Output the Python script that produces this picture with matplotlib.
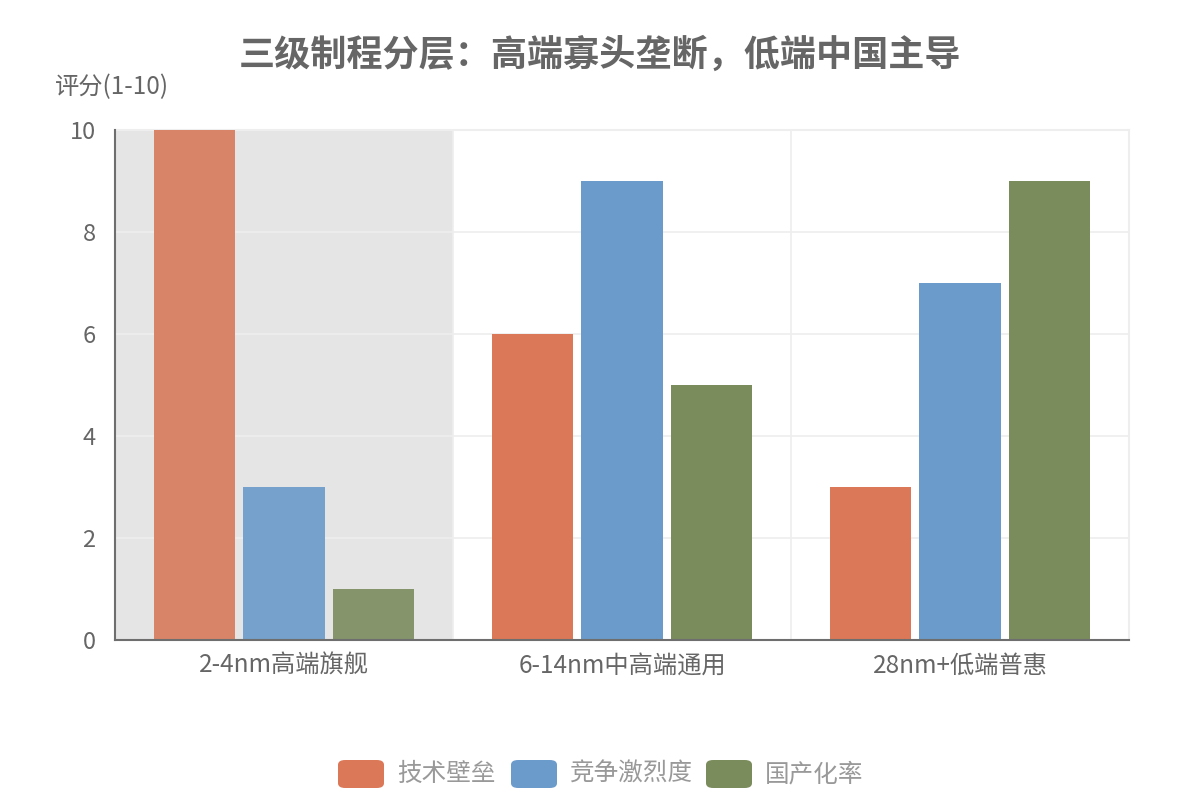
import matplotlib
matplotlib.use("Agg")
import matplotlib.pyplot as plt
from matplotlib.patches import FancyBboxPatch
import numpy as np

plt.rcParams["font.family"] = ["Noto Sans CJK SC", "DejaVu Sans"]

categories = ["2-4nm高端旗舰", "6-14nm中高端通用", "28nm+低端普惠"]
series_names = ["技术壁垒", "竞争激烈度", "国产化率"]
tech_barrier = [10, 6, 3]
competition = [3, 9, 7]
localization = [1, 5, 9]
y_ticks = [0, 2, 4, 6, 8, 10]

COLORS = ["#db7858", "#6b9bcb", "#7a8c5c"]
FADED = ["#d88468", "#76a1cc", "#85946b"]
TEXT = "#666666"

fig = plt.figure(figsize=(12, 8), dpi=100)
ax = fig.add_axes([115 / 1200, 160 / 800, 1014 / 1200, 510 / 800])

x = np.arange(len(categories))
width = 0.24
offsets = [-0.265, 0, 0.265]
values = [tech_barrier, competition, localization]

# highlighted first category (axis pointer shadow)
ax.axvspan(-0.5, 0.5, color="#e5e5e5", zorder=0.5, lw=0)

for i, vals in enumerate(values):
    cols = [FADED[i] if j == 0 else COLORS[i] for j in range(len(vals))]
    ax.bar(x + offsets[i], vals, width, color=cols, zorder=2)

ax.set_xlim(-0.5, 2.5)
ax.set_ylim(0, 10)
ax.set_yticks(y_ticks)
ax.set_yticklabels([str(t) for t in y_ticks])
ax.set_xticks(x)
ax.set_xticklabels(categories)
ax.tick_params(axis="x", length=0, labelsize=17.5, colors=TEXT, pad=9)
ax.tick_params(axis="y", length=0, labelsize=17, colors=TEXT, pad=14)

ax.grid(axis="y", color="#eeeeee", lw=1.2, zorder=1)
for b in [0.5, 1.5]:
    ax.axvline(b, color="#eeeeee", lw=1.2, zorder=1)
for side in ["top", "right"]:
    ax.spines[side].set_color("#eeeeee")
    ax.spines[side].set_linewidth(1.5)
for side in ["left", "bottom"]:
    ax.spines[side].set_color("#6e6e6e")
    ax.spines[side].set_linewidth(1.5)
ax.spines["top"].set_zorder(0.6)

fig.text(0.5, 1 - 55 / 800, "三级制程分层：高端寡头垄断，低端中国主导",
         ha="center", va="center", fontsize=26, fontweight="bold", color=TEXT)
fig.text(55 / 1200, 1 - 87 / 800, "评分(1-10)", ha="left", va="center",
         fontsize=17.5, color=TEXT)

# legend
box_x = [338, 511, 706]
for i, name in enumerate(series_names):
    bx = box_x[i]
    patch = FancyBboxPatch((bx / 1200, 1 - 788 / 800), 46 / 1200, 28 / 800,
                           boxstyle="round,pad=0,rounding_size=0.006",
                           transform=fig.transFigure, color=COLORS[i], lw=0)
    fig.patches.append(patch)
    fig.text((bx + 59) / 1200, 1 - 774 / 800, name, ha="left", va="center",
             fontsize=17.7, color="#999999")

fig.savefig("out.png", dpi=100)
